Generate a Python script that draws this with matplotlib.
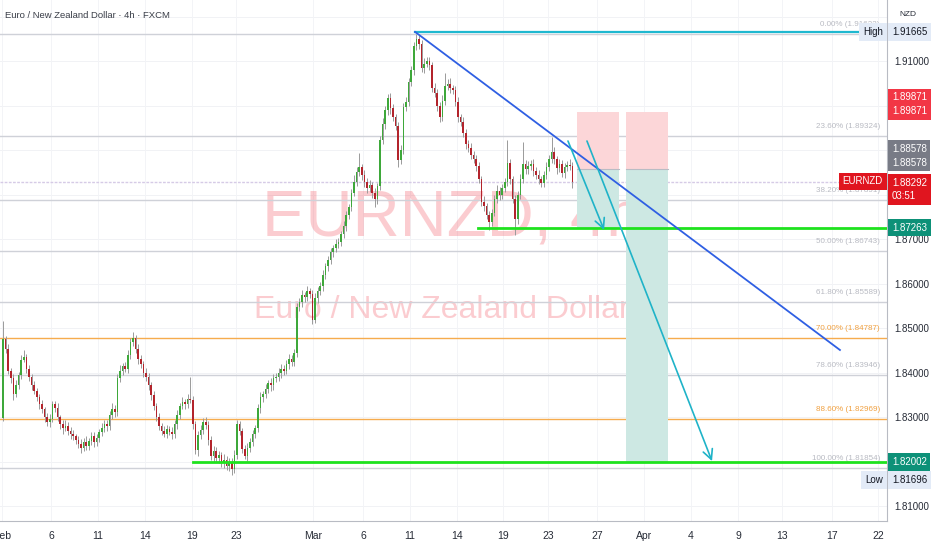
import numpy as np
import matplotlib
matplotlib.use("Agg")
import matplotlib.pyplot as plt
import matplotlib.transforms as mtransforms
from matplotlib.patches import Rectangle

plt.rcParams['font.family'] = ['Liberation Sans', 'DejaVu Sans']

# closes of the 4h candles, in pips above 1.8000
close_pips = [
    476, 455, 405, 388, 352, 372, 395, 430, 436, 410, 392, 372, 360, 345, 330, 318, 300, 290, 296, 330,
    322, 300, 285, 276, 282, 270, 262, 258, 250, 240, 232, 246, 236, 248, 258, 244, 255, 268, 276, 286,
    280, 305, 320, 312, 389, 405, 415, 410, 440, 470, 478, 455, 432, 420, 400, 390, 372, 350, 325, 300,
    282, 270, 264, 275, 268, 262, 285, 305, 325, 335, 330, 342, 340, 285, 226, 260, 272, 290, 284, 250,
    213, 225, 208, 215, 198, 205, 190, 200, 185, 215, 285, 270, 230, 214, 232, 245, 262, 276, 321, 345,
    352, 365, 378, 372, 388, 392, 400, 410, 405, 420, 432, 425, 445, 548, 560, 575, 570, 585, 578, 520,
    568, 585, 595, 620, 640, 655, 672, 680, 690, 695, 712, 730, 755, 772, 805, 830, 852, 862, 845, 830,
    815, 822, 805, 790, 820, 924, 960, 990, 1018, 995, 975, 955, 878, 900, 998, 1010, 1055, 1080, 1135, 1150,
    1140, 1085, 1095, 1100, 1092, 1040, 1030, 1000, 975, 1012, 1045, 1050, 1040, 1035, 1010, 975, 965, 940, 915, 905,
    890, 880, 865, 835, 785, 775, 755, 740, 760, 790, 810, 800, 815, 830, 872, 835, 790, 745, 800, 835,
    870, 858, 866, 870, 855, 845, 835, 828, 845, 862, 880, 897, 880, 860, 870, 850, 862, 868, 866, 829,
]
first_open_pips = 299
wick_up = [
    40, 8, 10, 6, 9, 12, 8, 10, 16, 7, 9, 6, 11, 7, 8, 10, 6, 9, 12, 8,
    7, 10, 6, 9, 12, 7, 8, 10, 6, 9, 11, 8, 12, 7, 9, 10, 8, 6, 11, 9,
    8, 10, 12, 7, 9, 14, 8, 10, 12, 9, 14, 7, 10, 8, 6, 11, 9, 7, 10, 8,
    9, 6, 11, 8, 7, 10, 9, 12, 8, 10, 7, 11, 50, 8, 6, 9, 12, 8, 10, 7,
    9, 11, 8, 10, 7, 12, 9, 8, 10, 12, 10, 8, 7, 9, 11, 8, 10, 7, 9, 12,
    8, 10, 7, 11, 9, 8, 12, 10, 7, 9, 11, 8, 10, 10, 9, 12, 8, 10, 7, 9,
    11, 8, 10, 12, 7, 9, 10, 8, 11, 9, 7, 12, 10, 8, 9, 14, 10, 32, 8, 11,
    9, 12, 8, 10, 7, 9, 12, 10, 8, 11, 9, 7, 10, 12, 8, 10, 9, 11, 8, 12,
    10, 8, 12, 9, 10, 7, 11, 9, 8, 12, 29, 10, 12, 8, 9, 11, 7, 10, 8, 9,
    11, 8, 10, 9, 7, 12, 8, 10, 9, 11, 12, 8, 10, 9, 52, 10, 8, 11, 9, 12,
    50, 9, 10, 8, 12, 9, 11, 8, 10, 12, 9, 33, 10, 8, 11, 9, 10, 8, 12, 9,
]
wick_dn = [
    6, 9, 8, 10, 12, 7, 9, 8, 6, 10, 9, 11, 8, 7, 12, 9, 10, 8, 11, 7,
    9, 8, 10, 12, 7, 9, 11, 8, 10, 9, 12, 7, 10, 8, 9, 11, 7, 9, 10, 8,
    10, 7, 9, 11, 8, 10, 9, 7, 11, 8, 9, 10, 12, 8, 9, 7, 11, 10, 8, 9,
    11, 9, 8, 10, 7, 10, 9, 11, 8, 7, 10, 9, 8, 10, 8, 12, 9, 8, 10, 11,
    9, 12, 8, 10, 9, 11, 8, 10, 14, 9, 8, 10, 9, 8, 11, 9, 10, 8, 9, 11,
    10, 8, 9, 12, 10, 8, 9, 11, 10, 8, 12, 9, 10, 8, 9, 11, 10, 8, 9, 10,
    8, 10, 9, 11, 8, 10, 9, 12, 8, 10, 9, 8, 11, 10, 9, 8, 10, 9, 11, 12,
    10, 9, 11, 16, 10, 8, 9, 11, 10, 12, 9, 10, 14, 9, 8, 10, 9, 11, 10, 9,
    11, 9, 10, 8, 12, 9, 10, 11, 12, 9, 10, 8, 11, 9, 10, 12, 9, 10, 11, 9,
    10, 9, 11, 8, 10, 12, 9, 19, 10, 8, 9, 11, 10, 9, 10, 11, 9, 35, 10, 8,
    9, 11, 10, 9, 12, 8, 10, 9, 11, 10, 9, 8, 10, 12, 9, 10, 11, 8, 9, 14,
]

date_labels = ['Feb', '6', '11', '14', '19', '23', 'Mar', '6', '11', '14', '19', '23', '27',
               'Apr', '4', '9', '13', '17', '22']
date_bars = [-0.4, 18.5, 36.5, 54.6, 72.7, 89.6, 119.2, 138.5, 156.5, 174.6, 192.3, 209.6,
             228.5, 246.5, 264.6, 282.7, 299.6, 318.8, 336.5]

price_ticks = [1.81, 1.83, 1.84, 1.85, 1.86, 1.87, 1.91]

fib_pct = ['0.00%', '23.60%', '38.20%', '50.00%', '61.80%', '70.00%', '78.60%', '88.60%', '100.00%']
fib_price = [1.91622, 1.89324, 1.87891, 1.86743, 1.85589, 1.84787, 1.83946, 1.82969, 1.81854]
fib_orange = [False, False, False, False, False, True, False, True, False]

high_price = 1.91665
low_price = 1.81696
stop_price = 1.89871
entry_price = 1.88578
last_price = 1.88292
tp1_price = 1.87263
tp2_price = 1.82002

closes = 1.8 + np.array(close_pips) / 10000
opens = np.concatenate([[1.8 + first_open_pips / 10000], closes[:-1]])
highs = np.maximum(opens, closes) + np.array(wick_up) / 10000
lows = np.minimum(opens, closes) - np.array(wick_dn) / 10000
idx = np.arange(len(closes))

W, H = 932, 550
fig = plt.figure(figsize=(W / 100, H / 100), dpi=100)
fig.patch.set_facecolor('white')
ax = fig.add_axes([0, 29 / H, 887 / W, 521 / H])
ax.set_xlim(-1.154, 340.0)
ax.set_ylim(1.80674, 1.92382)

GREEN_C = '#3ea83a'
RED_C = '#b3242c'

# faint grid
for p in np.arange(1.81, 1.925, 0.01):
    ax.axhline(p, color='#f1f2f5', lw=0.7, zorder=0)
for b in date_bars:
    ax.axvline(b, color='#f3f4f7', lw=0.7, zorder=0)

# watermark
ax.text(0.51, 0.58, 'EURNZD, 4h', transform=ax.transAxes, ha='center', va='center',
        fontsize=47, color='#f23645', alpha=0.25, zorder=0.5)
ax.text(0.498, 0.405, 'Euro / New Zealand Dollar', transform=ax.transAxes, ha='center',
        va='center', fontsize=23, color='#f23645', alpha=0.25, zorder=0.5)

blend = mtransforms.blended_transform_factory(ax.transAxes, ax.transData)

# fib levels
for pct, pr, org in zip(fib_pct, fib_price, fib_orange):
    col = '#f6ac4e' if org else '#cfd1d8'
    ax.axhline(pr, color=col, lw=1.0, zorder=1)
    tcol = '#f0a040' if org else '#b8bac2'
    ax.annotate(f'{pct} ({pr:.5f})', xy=(0.992, pr), xycoords=blend,
                xytext=(0, 4.5), textcoords='offset points', ha='right', va='bottom',
                fontsize=5.8, color=tcol, zorder=1)

# current price line
ax.axhline(last_price, color='#d6cbe6', lw=1.0, ls=(0, (2, 1)), zorder=1)

# candles
up = closes >= opens
ax.vlines(idx, lows, highs, color='#9a9a9a', lw=0.7, zorder=3)
body_h = np.maximum(np.abs(closes - opens), 0.00012)
ax.bar(idx, body_h, bottom=np.minimum(opens, closes), width=0.62,
       color=np.where(up, GREEN_C, RED_C), zorder=4)

# position boxes
box1 = (220.8, 236.9)
box2 = (239.6, 255.8)
for (x0, x1), tp in [(box1, tp1_price), (box2, tp2_price)]:
    ax.add_patch(Rectangle((x0, entry_price), x1 - x0, stop_price - entry_price,
                           fc='#fcd6d8', ec='none', zorder=2))
    ax.add_patch(Rectangle((x0, tp), x1 - x0, entry_price - tp,
                           fc='#cde8e3', ec='none', zorder=2))
    ax.plot([x0, x1], [entry_price, entry_price], color='#b9bcc4', lw=0.8, zorder=2)

# high line, support lines
ax.plot([158.5, 330.4], [high_price, high_price], color='#1fb8d0', lw=1.6, zorder=5)
ax.plot([182.7, 340], [tp1_price, tp1_price], color='#1ee21e', lw=2.0, zorder=5)
ax.plot([73.0, 340], [tp2_price, tp2_price], color='#1ee21e', lw=2.0, zorder=5)

# trend line
ax.plot([158.5, 321.9], [high_price, 1.84517], color='#2f5fe3', lw=1.3, zorder=6)

# arrows
for (xa, ya), (xb, yb) in [((217.3, 1.89213), (231.2, 1.87213)),
                           ((224.6, 1.89213), (272.7, 1.8202))]:
    ax.annotate('', xy=(xb, yb), xytext=(xa, ya),
                arrowprops=dict(arrowstyle='->,head_length=0.7,head_width=0.35',
                                color='#1fb3c8', lw=1.2, shrinkA=0, shrinkB=0), zorder=6)

# spines / axes
for s in ['top', 'left']:
    ax.spines[s].set_visible(False)
ax.spines['right'].set_color('#b8bbc3')
ax.spines['bottom'].set_color('#b8bbc3')
ax.set_xticks(date_bars)
ax.set_xticklabels(date_labels, fontsize=7.5, color='#262b36')
ax.tick_params(axis='x', length=0, pad=7)
ax.yaxis.tick_right()
ax.set_yticks(price_ticks)
ax.set_yticklabels([f'{p:.5f}' for p in price_ticks], fontsize=7, color='#262b36')
ax.tick_params(axis='y', length=0, pad=5)

# title and axis tags
fig.text(5 / W, 1 - 15 / H, 'Euro / New Zealand Dollar · 4h · FXCM', fontsize=6.8,
         color='#3a3e48', va='center')
fig.text(899 / W, 1 - 15 / H, 'NZD', fontsize=6, color='#262b36', va='center')


def tag(price, text, fc, tc='white', dy=0.0, dx=3.5, ha='left'):
    ax.annotate(text, xy=(1.0, price), xycoords=blend, xytext=(dx, dy), textcoords='offset points',
                ha=ha, va='center', fontsize=7, color=tc, linespacing=1.45,
                bbox=dict(boxstyle='square,pad=0.38', fc=fc, ec='none'),
                annotation_clip=False, zorder=10)


tag(high_price, f'{high_price:.5f}', '#e3ebf7', tc='#131722')
tag(high_price, 'High', '#e3ebf7', tc='#131722', dx=-3, ha='right')
tag(stop_price, f'{stop_price:.5f}\n{stop_price:.5f}', '#f23645', dy=5.4)
tag(entry_price, f'{entry_price:.5f}\n{entry_price:.5f}', '#787b86', dy=9.7)
tag(last_price, f'{last_price:.5f}\n03:51', '#e0151f', dy=-5.4)
tag(last_price, 'EURNZD', '#e0151f', dx=-3, ha='right', dy=0.5)
tag(tp1_price, f'{tp1_price:.5f}', '#0d9178')
tag(tp2_price, f'{tp2_price:.5f}', '#0d9178')
tag(low_price, f'{low_price:.5f}', '#e3ebf7', tc='#131722', dy=-3.2)
tag(low_price, 'Low', '#e3ebf7', tc='#131722', dx=-3, ha='right', dy=-3.2)

fig.savefig('out.png', dpi=100, facecolor='white')
